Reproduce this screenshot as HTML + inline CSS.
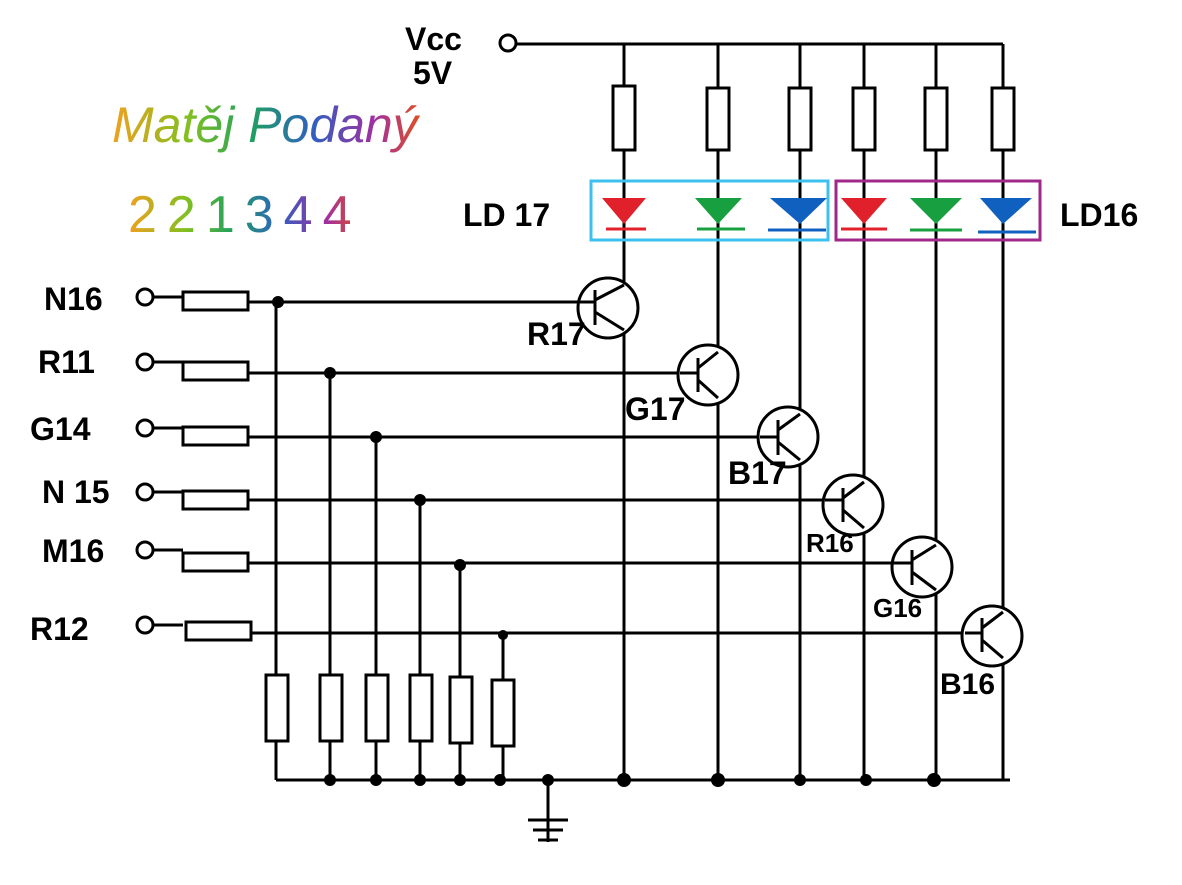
<!DOCTYPE html>
<html><head><meta charset="utf-8"><style>
html,body{margin:0;padding:0;background:#fff;width:1182px;height:885px;overflow:hidden}
svg text{font-family:"Liberation Sans",sans-serif}
</style></head><body>
<svg width="1182" height="885" viewBox="0 0 1182 885" xmlns="http://www.w3.org/2000/svg">
<g stroke="#000" stroke-width="3" fill="none">
<circle cx="508" cy="43" r="8" fill="#fff"/>
<line x1="516" y1="44" x2="1003" y2="44"/>
<line x1="624" y1="44" x2="624" y2="780"/>
<line x1="718" y1="44" x2="718" y2="780"/>
<line x1="800" y1="44" x2="800" y2="780"/>
<line x1="864" y1="44" x2="864" y2="780"/>
<line x1="936" y1="44" x2="936" y2="780"/>
<line x1="1003" y1="44" x2="1003" y2="780"/>
<rect x="613" y="86" width="22" height="64" fill="#fff"/>
<rect x="707" y="88" width="22" height="62" fill="#fff"/>
<rect x="789" y="88" width="22" height="62" fill="#fff"/>
<rect x="853" y="88" width="22" height="62" fill="#fff"/>
<rect x="925" y="88" width="22" height="62" fill="#fff"/>
<rect x="992" y="88" width="22" height="62" fill="#fff"/>
<line x1="276" y1="780" x2="1010" y2="780"/>
<line x1="548" y1="780" x2="548" y2="842"/>
<line x1="528" y1="820" x2="568" y2="820"/>
<line x1="533" y1="830" x2="563" y2="830"/>
<line x1="538" y1="840" x2="558" y2="840"/>
<circle cx="145" cy="297" r="8" fill="#fff"/><line x1="153" y1="297" x2="183" y2="297"/><rect x="183" y="292" width="65" height="18" fill="#fff"/><line x1="248" y1="302" x2="580" y2="302"/>
<circle cx="145" cy="362" r="8" fill="#fff"/><line x1="153" y1="362" x2="183" y2="362"/><rect x="183" y="362" width="65" height="18" fill="#fff"/><line x1="248" y1="373" x2="680" y2="373"/>
<circle cx="145" cy="428" r="8" fill="#fff"/><line x1="153" y1="428" x2="183" y2="428"/><rect x="183" y="427" width="65" height="18" fill="#fff"/><line x1="248" y1="437" x2="760" y2="437"/>
<circle cx="145" cy="492" r="8" fill="#fff"/><line x1="153" y1="492" x2="183" y2="492"/><rect x="183" y="491" width="65" height="18" fill="#fff"/><line x1="248" y1="500" x2="825" y2="500"/>
<circle cx="145" cy="550" r="8" fill="#fff"/><line x1="153" y1="550" x2="183" y2="550"/><rect x="183" y="553" width="65" height="18" fill="#fff"/><line x1="248" y1="563" x2="893" y2="563"/>
<circle cx="145" cy="625" r="8" fill="#fff"/><line x1="153" y1="625" x2="183" y2="625"/><rect x="186" y="622" width="65" height="18" fill="#fff"/><line x1="251" y1="633" x2="965" y2="633"/>
<line x1="276" y1="302" x2="276" y2="780"/><rect x="266" y="675" width="22" height="66" fill="#fff"/>
<line x1="330" y1="373" x2="330" y2="780"/><rect x="320" y="675" width="22" height="66" fill="#fff"/>
<line x1="376" y1="437" x2="376" y2="780"/><rect x="366" y="675" width="22" height="66" fill="#fff"/>
<line x1="420" y1="500" x2="420" y2="780"/><rect x="410" y="675" width="22" height="66" fill="#fff"/>
<line x1="460" y1="565" x2="460" y2="780"/><rect x="450" y="677" width="22" height="66" fill="#fff"/>
<line x1="503" y1="635" x2="503" y2="780"/><rect x="492" y="680" width="22" height="66" fill="#fff"/>
<g><circle cx="608" cy="308" r="30" fill="#fff"/><line x1="595" y1="290" x2="595" y2="325"/><line x1="580" y1="302" x2="595" y2="302"/><line x1="595" y1="300" x2="624" y2="285"/><line x1="595" y1="312" x2="624" y2="330"/></g>
<g><circle cx="708" cy="375" r="30" fill="#fff"/><line x1="698" y1="358" x2="698" y2="392"/><line x1="680" y1="373" x2="698" y2="373"/><line x1="698" y1="368" x2="718" y2="352"/><line x1="698" y1="380" x2="718" y2="398"/></g>
<g><circle cx="788" cy="437" r="30" fill="#fff"/><line x1="778" y1="420" x2="778" y2="455"/><line x1="760" y1="437" x2="778" y2="437"/><line x1="778" y1="430" x2="800" y2="414"/><line x1="778" y1="442" x2="800" y2="460"/></g>
<g><circle cx="853" cy="505" r="30" fill="#fff"/><line x1="843" y1="488" x2="843" y2="522"/><line x1="825" y1="500" x2="843" y2="500"/><line x1="843" y1="498" x2="864" y2="482"/><line x1="843" y1="510" x2="864" y2="528"/></g>
<g><circle cx="922" cy="567" r="30" fill="#fff"/><line x1="912" y1="550" x2="912" y2="585"/><line x1="893" y1="563" x2="912" y2="563"/><line x1="912" y1="560" x2="936" y2="545"/><line x1="912" y1="572" x2="936" y2="590"/></g>
<g><circle cx="992" cy="636" r="30" fill="#fff"/><line x1="982" y1="618" x2="982" y2="652"/><line x1="965" y1="633" x2="982" y2="633"/><line x1="982" y1="628" x2="1003" y2="612"/><line x1="982" y1="640" x2="1003" y2="658"/></g>
</g>
<rect x="591" y="181" width="237" height="59" fill="none" stroke="#3cc0ee" stroke-width="3"/>
<rect x="836" y="181" width="204" height="59" fill="none" stroke="#a0288a" stroke-width="3"/>
<g stroke-width="3">
<polygon points="602,198 646,198 624,224" fill="#e0202a"/><line x1="606" y1="229" x2="646" y2="229" stroke="#e0202a"/>
<polygon points="695,198 742,198 718,224" fill="#18a040"/><line x1="697" y1="229" x2="745" y2="229" stroke="#18a040"/>
<polygon points="770,198 827,198 800,224" fill="#1060c0"/><line x1="768" y1="230" x2="826" y2="230" stroke="#1060c0"/>
<polygon points="841,198 887,198 864,224" fill="#e0202a"/><line x1="841" y1="229" x2="887" y2="229" stroke="#e0202a"/>
<polygon points="910,198 962,198 936,224" fill="#18a040"/><line x1="910" y1="230" x2="962" y2="230" stroke="#18a040"/>
<polygon points="980,198 1032,198 1003,224" fill="#1060c0"/><line x1="978" y1="232" x2="1036" y2="232" stroke="#1060c0"/>
</g>
<g fill="#000">
<circle cx="278" cy="302" r="6"/><circle cx="330" cy="373" r="6"/><circle cx="376" cy="437" r="6"/><circle cx="420" cy="500" r="6"/><circle cx="460" cy="565" r="6"/><circle cx="503" cy="635" r="5"/>
<circle cx="330" cy="780" r="6"/><circle cx="376" cy="780" r="6"/><circle cx="420" cy="780" r="6"/><circle cx="460" cy="780" r="6"/><circle cx="500" cy="780" r="6"/><circle cx="548" cy="780" r="6"/><circle cx="624" cy="780" r="7"/><circle cx="718" cy="780" r="7"/><circle cx="800" cy="780" r="6"/><circle cx="866" cy="780" r="6"/><circle cx="934" cy="780" r="7"/>
</g>
<g font-size="32" fill="#000" font-weight="bold">
<text x="405" y="50">Vcc</text><text x="413" y="84">5V</text>
<text x="463" y="226">LD 17</text><text x="1060" y="226">LD16</text>
<text x="44" y="310">N16</text><text x="38" y="373">R11</text><text x="30" y="440">G14</text><text x="42" y="503">N 15</text><text x="42" y="562">M16</text><text x="30" y="640">R12</text>
<text x="527" y="345">R17</text><text x="625" y="420">G17</text><text x="728" y="484">B17</text>
<text x="806" y="552" font-size="26">R16</text><text x="873" y="617" font-size="26">G16</text><text x="940" y="694" font-size="30">B16</text>
</g>
<defs><linearGradient id="rb" x1="0" x2="1"><stop offset="0" stop-color="#f0a020"/><stop offset=".25" stop-color="#80c020"/><stop offset=".45" stop-color="#20a060"/><stop offset=".65" stop-color="#3060c0"/><stop offset=".85" stop-color="#a030a0"/><stop offset="1" stop-color="#e05020"/></linearGradient></defs>
<text x="112" y="142" font-size="50" font-style="italic" fill="url(#rb)" font-family="Liberation Serif">Matěj Podaný</text>
<text x="128" y="232" font-size="52" fill="url(#rb)" letter-spacing="10" font-weight="300">221344</text>
</svg>
</body></html>
